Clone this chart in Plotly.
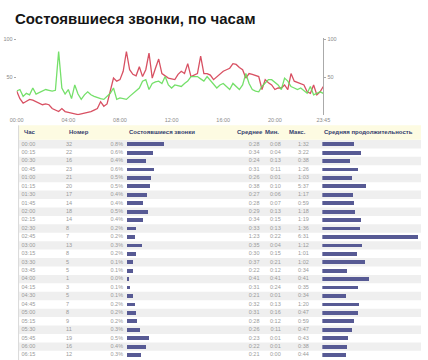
import plotly.graph_objects as go

W, H = 428, 360

# ---------------- data ----------------
slots = [f"{h:02d}:{m:02d}" for h in range(24) for m in (0, 15, 30, 45)]

red = [32, 22, 16, 19, 21, 20, 18, 17, 14, 15, 14, 9, 7, 5, 9, 5, 4, 3, 2, 1,
       2, 3, 4, 5, 7, 9, 18, 12, 15, 34, 49, 45, 47, 58, 84, 60, 54, 52, 64, 51,
       60, 82, 49, 62, 74, 55, 52, 49, 48, 47, 54, 58, 55, 68, 51, 53, 55, 78, 55, 55,
       53, 47, 51, 55, 58, 60, 62, 68, 67, 63, 60, 49, 55, 54, 52, 51, 34, 47, 43, 40,
       34, 36, 36, 40, 34, 55, 45, 43, 42, 40, 31, 29, 40, 27, 31, 38]

green = [32, 34, 25, 29, 27, 36, 28, 30, 32, 34, 33, 32, 33, 84, 36, 28, 34, 22, 40, 28,
         21, 27, 31, 27, 25, 23, 22, 21, 25, 29, 36, 21, 23, 22, 21, 25, 29, 33, 36, 45,
         47, 34, 42, 44, 45, 42, 51, 40, 36, 40, 39, 38, 42, 45, 51, 51, 51, 48, 45, 51,
         46, 40, 36, 40, 42, 38, 34, 42, 38, 34, 40, 55, 42, 34, 32, 31, 38, 43, 47, 47,
         44, 40, 34, 49, 45, 38, 36, 34, 36, 32, 29, 38, 27, 29, 31, 29]

x_tick_labels = ["00:00", "04:00", "08:00", "12:00", "16:00", "20:00", "23:45"]
y_tick_vals = [50, 100]

hours = ["00:00", "00:15", "00:30", "00:45", "01:00", "01:15", "01:30", "01:45",
         "02:00", "02:15", "02:30", "02:45", "03:00", "03:15", "03:30", "03:45",
         "04:00", "04:15", "04:30", "04:45", "05:00", "05:15", "05:30", "05:45",
         "06:00", "06:15"]
calls = [32, 22, 16, 23, 21, 20, 17, 14, 18, 14, 8, 7, 13, 8, 5, 5, 1, 3, 5, 7,
         8, 9, 11, 19, 16, 12]
share = ["0.8%", "0.6%", "0.4%", "0.6%", "0.5%", "0.5%", "0.4%", "0.4%", "0.5%", "0.4%",
         "0.2%", "0.2%", "0.3%", "0.2%", "0.1%", "0.1%", "0.0%", "0.1%", "0.1%", "0.2%",
         "0.2%", "0.2%", "0.3%", "0.5%", "0.4%", "0.3%"]
avg = ["0:28", "0:34", "0:24", "0:31", "0:26", "0:38", "0:27", "0:28", "0:29", "0:34",
       "0:33", "1:23", "0:35", "0:30", "0:37", "0:22", "0:41", "0:31", "0:21", "0:32",
       "0:31", "0:28", "0:26", "0:23", "0:22", "0:21"]
mins = ["0:08", "0:04", "0:13", "0:11", "0:01", "0:10", "0:06", "0:07", "0:13", "0:15",
        "0:13", "0:22", "0:04", "0:15", "0:21", "0:12", "0:41", "0:24", "0:01", "0:13",
        "0:16", "0:12", "0:11", "0:01", "0:01", "0:00"]
maxs = ["1:32", "3:22", "0:38", "1:26", "1:03", "5:37", "1:17", "0:59", "1:18", "1:19",
        "1:36", "6:31", "1:12", "1:01", "1:02", "0:34", "0:41", "0:35", "0:34", "1:20",
        "0:47", "0:59", "0:47", "0:43", "0:38", "0:44"]
headers = ["Час", "Номер", "Состоявшиеся звонки", "Среднее", "Мин.", "Макс.",
           "Средняя продолжительность"]

avg_sec = [int(s.split(":")[0]) * 60 + int(s.split(":")[1]) for s in avg]

# ---------------- helpers ----------------
FONT = "Liberation Sans, Arial, sans-serif"
def fx(p): return p / W
def fy(p): return 1 - p / H

ROW0, ROWSTEP, N = 143, 8.48, len(hours)
tbl_top = ROW0 - ROWSTEP / 2
tbl_bot = ROW0 + ROWSTEP * (N - 1) + ROWSTEP / 2

fig = go.Figure()

# ---------------- line chart ----------------
fig.add_trace(go.Scatter(x=slots, y=green, mode="lines", xaxis="x", yaxis="y5",
                         line=dict(color="#66dd5a", width=1.3), opacity=0.9,
                         hoverinfo="skip"))
fig.add_trace(go.Scatter(x=slots, y=red, mode="lines", xaxis="x", yaxis="y",
                         line=dict(color="#d23348", width=1.3), opacity=0.85,
                         hoverinfo="skip"))

# ---------------- table text ----------------
row_font = dict(family=FONT, size=5.5, color="#9a9a9a")
def text_col(xpos, texts, pos):
    fig.add_trace(go.Scatter(x=[xpos] * N, y=hours, text=texts, mode="text",
                             textposition=pos, textfont=row_font,
                             xaxis="x2", yaxis="y2", hoverinfo="skip",
                             cliponaxis=False))

text_col(15, hours, "middle right")
text_col(61, [str(c) for c in calls], "middle right")
text_col(120, share, "middle left")
text_col(261, avg, "middle left")
text_col(283, mins, "middle left")
text_col(312, maxs, "middle left")

# ---------------- table bars ----------------
bar_color = "#575a94"
fig.add_trace(go.Bar(x=calls, y=hours, orientation="h", xaxis="x3", yaxis="y2",
                     marker=dict(color=bar_color, line=dict(width=0)), width=0.45,
                     hoverinfo="skip"))
fig.add_trace(go.Bar(x=avg_sec, y=hours, orientation="h", xaxis="x4", yaxis="y2",
                     marker=dict(color=bar_color, line=dict(width=0)), width=0.45,
                     hoverinfo="skip"))

# ---------------- shapes ----------------
shapes = []
for i in range(N):
    if i % 2 == 0:
        shapes.append(dict(type="rect", xref="paper", yref="y2", x0=fx(12), x1=1,
                           y0=i - 0.5, y1=i + 0.5, fillcolor="#efefef",
                           line=dict(width=0), layer="below"))
shapes.append(dict(type="rect", xref="paper", yref="paper", x0=fx(12), x1=1,
                   y0=fy(138.5), y1=fy(124), fillcolor="#fdfbe2",
                   line=dict(width=0), layer="below"))
shapes.append(dict(type="line", xref="paper", yref="paper", x0=fx(12), x1=fx(12),
                   y0=0, y1=fy(124), line=dict(color="#d8d8d8", width=1), layer="below"))

# ---------------- annotations ----------------
annotations = [dict(text="Состоявшиеся звонки, по часам", x=fx(6), y=fy(17),
                    xref="paper", yref="paper", xanchor="left", yanchor="middle",
                    showarrow=False,
                    font=dict(family=FONT, size=15, color="#151515", weight="bold"))]
hdr_x = [15, 62, 124, 236, 265, 289, 326]
for hx, ht in zip(hdr_x, headers):
    annotations.append(dict(text=ht, x=fx(hx), y=fy(131), xref="paper", yref="paper",
                            xanchor="left", yanchor="middle", showarrow=False,
                            font=dict(family=FONT, size=6, color="#34406e",
                                      weight="bold")))

axis_font = dict(family=FONT, size=5.5, color="#8a8a8a")
fig.update_layout(
    width=W, height=H, margin=dict(l=0, r=0, t=0, b=0),
    paper_bgcolor="white", plot_bgcolor="rgba(0,0,0,0)",
    showlegend=False, bargap=0,
    xaxis=dict(type="category", domain=[fx(10), fx(327)], range=[0, len(slots) - 1],
               anchor="y", tickvals=x_tick_labels, ticktext=x_tick_labels,
               showgrid=False, zeroline=False, showline=False, ticks="",
               tickfont=axis_font),
    yaxis=dict(domain=[fy(114), fy(36)], range=[0, 102], anchor="x",
               tickvals=y_tick_vals, showgrid=False, zeroline=False, showline=False,
               ticks="outside", ticklen=2, tickcolor="#aaaaaa",
               tickfont=axis_font),
    yaxis5=dict(domain=[fy(114), fy(36)], range=[0, 102], anchor="x",
                overlaying="y", side="right", tickvals=y_tick_vals,
                showgrid=False, zeroline=False, showline=True, linecolor="#aaaaaa",
                linewidth=1, ticks="outside", ticklen=2, tickcolor="#aaaaaa",
                tickfont=axis_font),
    yaxis2=dict(type="category", categoryorder="array", categoryarray=hours,
                domain=[fy(tbl_bot), fy(tbl_top)], range=[N - 0.5, -0.5],
                anchor="x2", visible=False, fixedrange=True),
    xaxis2=dict(domain=[0, 1], range=[0, W], anchor="y2", visible=False),
    xaxis3=dict(domain=[fx(124), 1], range=[0, (W - 124) / 1.2], anchor="y2",
                visible=False),
    xaxis4=dict(domain=[fx(326), 1], range=[0, (W - 326) / 1.19], anchor="y2",
                visible=False),
    shapes=shapes, annotations=annotations,
)

fig.write_html("out.html")
